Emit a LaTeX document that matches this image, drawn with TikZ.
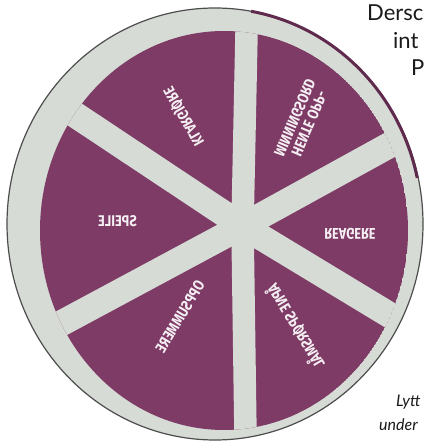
\documentclass[tikz,border=0pt]{standalone}
\usepackage{fontspec}
\usepackage{graphicx}
\setmainfont{Lato}
\newfontfamily\labf[FakeStretch=0.82]{Fira Sans}
\definecolor{purp}{HTML}{7D3B66}
\definecolor{ringc}{HTML}{D6DBD5}
\definecolor{labc}{HTML}{F5EEF2}
\definecolor{edgec}{HTML}{4D4D4D}
\definecolor{rimc}{HTML}{5F2A4D}
\definecolor{txtc}{HTML}{1A1A1A}
\begin{document}
\begin{tikzpicture}[x=1pt,y=1pt,
  lab/.style={text=labc, font=\labf\bfseries\fontsize{15.5}{15.5}\selectfont, inner sep=0pt},
  spoke/.style={draw=ringc, line join=miter},
  headtxt/.style={anchor=base west, inner sep=0pt, text=txtc, font=\fontsize{22}{24}\selectfont},
  foottxt/.style={anchor=base west, inner sep=0pt, text=txtc, font=\itshape\fontsize{16}{18}\selectfont}]
\useasboundingbox (0,0) rectangle (425,441);
\fill[white] (0,0) rectangle (425,441);
\clip (0,0) rectangle (425,441);
% disc
\coordinate (dc) at (215,217);
\fill[ringc] (dc) ellipse [x radius=208, y radius=216];
\coordinate (pc) at (224,210.5);
\coordinate (hub) at (242.5,215);
\coordinate (up) at (247.6,461);
\coordinate (down) at (246,-30);
\coordinate (ul) at (-12.5,384.5);
\coordinate (lr) at (463,81.5);
\coordinate (ll) at (-21.5,73.2);
\coordinate (ur) at (459.2,334.3);
\begin{scope}
  \clip (pc) ellipse [x radius=184, y radius=199.5];
  \fill[purp] (pc) ellipse [x radius=184, y radius=199.5];
  \draw[spoke, line width=22.5] (up) -- (hub) -- (down);
  \draw[spoke, line width=26] (ul) -- (hub) -- (lr);
  \draw[spoke, line width=26] (ll) -- (hub) -- (ur);
\end{scope}
\draw[edgec, line width=1.2] (dc) ellipse [x radius=208, y radius=216];
\draw[rimc, line width=3] (251.1,429.7) arc [start angle=80, end angle=12, x radius=206.5, y radius=214.5];
% labels
\node[lab, rotate=-60] (l1) at (183.5,324.5) {\reflectbox{KLARGJØRE}};
\node[lab, rotate=-113] (l2) at (300,321) {\reflectbox{\begin{tabular}{@{}c@{}}HENTE OPP-\\MINNINGSORD\end{tabular}}};
\node[lab, rotate=180] (l3) at (350,207) {\reflectbox{REAGERE}};
\node[lab, rotate=121] (l4) at (295,114.5) {\reflectbox{ÅPNE SPØRSMÅL}};
\node[lab, rotate=59] (l5) at (180,124.5) {\reflectbox{OPPSUMMERE}};
\node[lab] (l6) at (117.5,220) {\reflectbox{SPEILE}};
% side text
\node[headtxt] (h1) at (367,420) {Dersc};
\node[headtxt] (h2) at (393,392) {int};
\node[headtxt] (h3) at (411,365) {P};
\node[foottxt] (f1) at (396,34) {Lytt};
\node[foottxt] (f2) at (379,10) {under};
\end{tikzpicture}
\end{document}
